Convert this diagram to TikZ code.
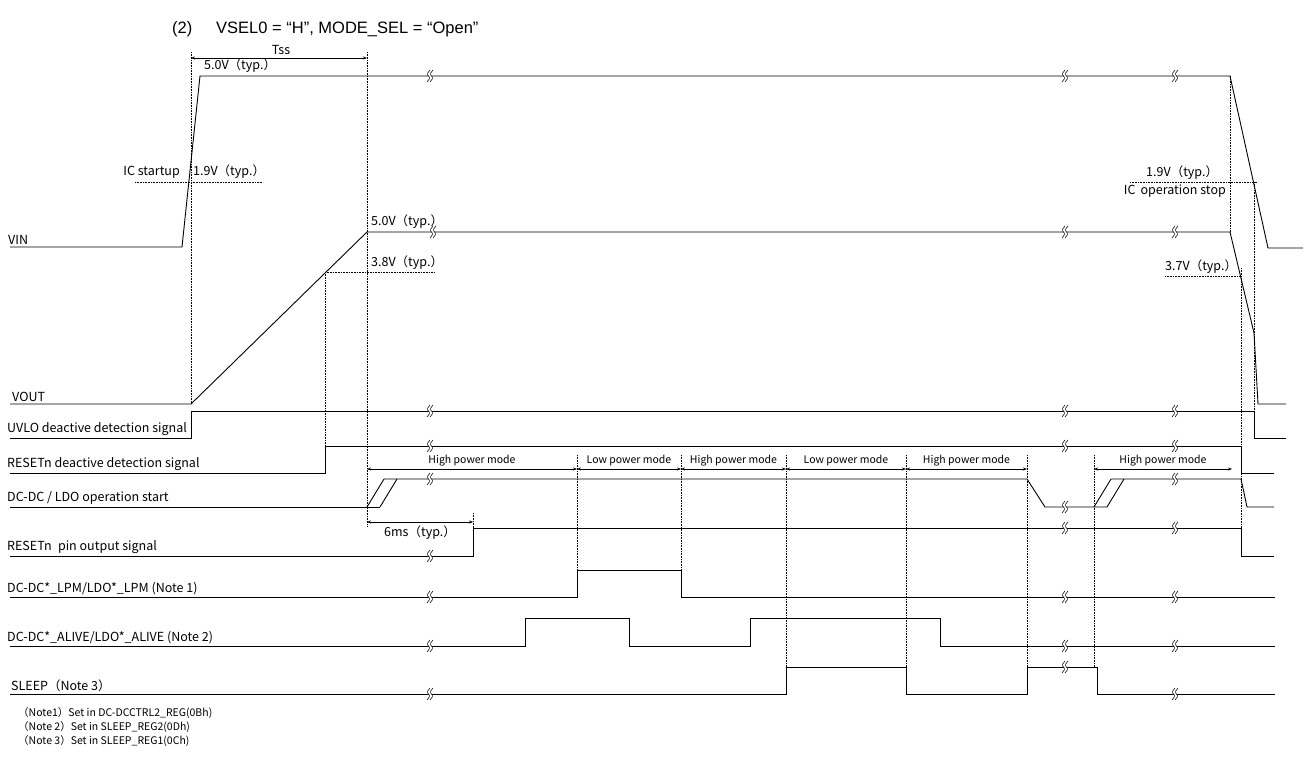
\documentclass[tikz,border=0pt]{standalone}
\usepackage{fontspec}
\setmainfont{Liberation Sans}
\newfontfamily\jp{Noto Sans CJK JP}
\usetikzlibrary{arrows.meta}
\tikzset{
  brk/.pic={
    \fill[white] (0,-6) -- (-3,-2) -- (0,2) -- (-3,6) -- (0,6) -- (3,2) -- (0,-2) -- (3,-6) -- cycle;
    \draw[line width=0.55pt, rounded corners=1pt] (0,-6) -- (-3,-2) -- (0,2) -- (-3,6);
    \draw[line width=0.55pt, rounded corners=1pt] (3,-6) -- (0,-2) -- (3,2) -- (0,6);
  }
}
\begin{document}
\begin{tikzpicture}[x=1pt,y=-1pt,
  sig/.style={line width=0.9pt},
  dotl/.style={line width=0.6pt, densely dotted},
  lbl/.style={font=\jp\fontsize{12.5}{13}\selectfont, inner sep=0pt, anchor=south west},
  val/.style={font=\jp\fontsize{12.5}{13}\selectfont, inner sep=0pt, anchor=south west},
  modetxt/.style={font=\jp\fontsize{10.5}{11}\selectfont, inner sep=0pt, anchor=south},
  note/.style={font=\jp\fontsize{10.5}{11}\selectfont, inner sep=0pt, anchor=west},
  dim/.style={line width=0.6pt, {Stealth[length=4pt,width=3pt]}-{Stealth[length=4pt,width=3pt]}}
]
\useasboundingbox (0,0) rectangle (1309,760);
\fill[white] (0,0) rectangle (1309,760);

% title
\node[font=\fontsize{16.5}{19}\selectfont, inner sep=0pt, anchor=west] (title) at (172,29) {\makebox[44pt][l]{(2)}VSEL0 = “H”, MODE\_SEL = “Open”};

% ---------- dotted guides ----------
\draw[dotl] (191,52) -- (191,404);
\draw[dotl] (367,52) -- (367,527);
\draw[dotl] (135,182) -- (263,182);
\draw[dotl] (1130,182) -- (1258,182);
\draw[dotl] (325,272) -- (435,272);
\draw[dotl] (325,272) -- (325,446);
\draw[dotl] (1165,276) -- (1241,276);
\draw[dotl] (1241,268) -- (1241,556);
\draw[dotl] (1230,76) -- (1230,232);
\draw[dotl] (1254,182) -- (1254,411);
\draw[dotl] (473,513) -- (473,528);
\foreach \x/\yb in {577/570, 681/570, 786/667, 906/667, 1027/667, 1094/667}
  \draw[dotl] (\x,455) -- (\x,\yb);

% ---------- dimension arrows ----------
\coordinate (tssA) at (191,58);
\coordinate (tssB) at (367,58);
\draw[dim] (tssA) -- (tssB);
\node[val, anchor=south] (tss) at (281,55) {Tss};

\coordinate (msA) at (367,522);
\coordinate (msB) at (473,522);
\draw[dim] (msA) -- (msB);
\node[val, anchor=north west] (ms6) at (384,526) {6ms（typ.）};

% mode arrows
\foreach \a/\b/\t [count=\i] in {367/577/High power mode, 577/681/Low power mode, 681/786/High power mode, 786/906/Low power mode, 906/1027/High power mode, 1094/1232/High power mode}{
  \coordinate (mA\i) at (\a,469);
  \coordinate (mB\i) at (\b,469);
  \draw[dim] (mA\i) -- (mB\i);
  \node[modetxt] (mt\i) at ({(\a+\b)/2},466) {\t};
}

% ---------- VIN ----------
\draw[sig] (10,247) -- (182,247) -- (200,76) -- (1230,76) -- (1268,248) -- (1303,248);
\node[lbl] (vin) at (8,245) {VIN};
\node[val] (v50a) at (204,73) {5.0V（typ.）};
\node[val, anchor=south east] (icst) at (180,179) {IC startup};
\node[val] (v19a) at (193,179) {1.9V（typ.）};
\node[val] (v19b) at (1146,180) {1.9V（typ.）};
\node[val, anchor=north east] (icop) at (1226,185) {IC\hspace{0.4em}operation stop};

% ---------- VOUT ----------
\draw[sig] (10,404) -- (191,404) -- (367,232) -- (1230,232) -- (1254,333) -- (1258,404) -- (1286,404);
\node[lbl] (vout) at (12,402) {VOUT};
\node[val] (v50b) at (371,229) {5.0V（typ.）};
\node[val] (v38) at (371,270) {3.8V（typ.）};
\node[val] (v37) at (1165,274) {3.7V（typ.）};

% ---------- UVLO ----------
\draw[sig] (10,438) -- (191,438) -- (191,411) -- (1254,411) -- (1254,438) -- (1286,438);
\node[lbl] (uvlo) at (7,436) {UVLO deactive detection signal};

% ---------- RESETn deactive ----------
\draw[sig] (10,473) -- (325,473) -- (325,446) -- (1241,446) -- (1241,473) -- (1274,473);
\node[lbl] (rstd) at (7,471) {RESETn deactive detection signal};

% ---------- DC-DC / LDO operation start ----------
\draw[sig] (10,507) -- (380,507);
\draw[sig] (367,507) -- (384,479);
\draw[sig] (380,507) -- (397,479);
\draw[sig] (384,479) -- (1027,479) -- (1045,507) -- (1107,507);
\draw[sig] (1094,507) -- (1111,479);
\draw[sig] (1107,507) -- (1124,479);
\draw[sig] (1111,479) -- (1241,479) -- (1247,507) -- (1274,507);
\node[lbl] (dcst) at (7,505) {DC-DC / LDO operation start};

% ---------- RESETn pin output ----------
\draw[sig] (10,556) -- (473,556) -- (473,528) -- (1241,528) -- (1241,556) -- (1274,556);
\node[lbl] (rstp) at (7,554) {RESETn\hspace{0.5em}pin output signal};

% ---------- LPM ----------
\draw[sig] (10,597) -- (577,597) -- (577,570) -- (681,570) -- (681,597) -- (1275,597);
\node[lbl] (lpm) at (7,595) {DC-DC*\_LPM/LDO*\_LPM (Note 1)};

% ---------- ALIVE ----------
\draw[sig] (10,646) -- (525,646) -- (525,618) -- (629,618) -- (629,646) -- (750,646) -- (750,618) -- (940,618) -- (940,646) -- (1275,646);
\node[lbl] (alive) at (7,644) {DC-DC*\_ALIVE/LDO*\_ALIVE (Note 2)};

% ---------- SLEEP ----------
\draw[sig] (10,694) -- (786,694) -- (786,667) -- (906,667) -- (906,694) -- (1027,694) -- (1027,667) -- (1097,667) -- (1097,694) -- (1275,694);
\node[lbl] (sleep) at (11,692) {SLEEP（Note 3）};

% ---------- break marks ----------
\foreach \p in {(430,76),(1065,76),(1175,76),
                (433,232),(1065,232),(1175,232),
                (430,411),(1065,411),(1175,411),
                (430,446),(1065,446),(1175,446),
                (430,479),(1065,507),(1175,479),
                (430,556),(1065,528),(1175,528),
                (430,597),(1065,597),(1175,597),
                (430,646),(1065,646),(1175,646),
                (430,694),(1065,667),(1175,694)}
  \pic at \p {brk};

% ---------- notes ----------
\node[note] (n1) at (18,713) {（Note1）Set in DC-DCCTRL2\_REG(0Bh)};
\node[note] (n2) at (18,727) {（Note 2）Set in SLEEP\_REG2(0Dh)};
\node[note] (n3) at (18,741) {（Note 3）Set in SLEEP\_REG1(0Ch)};
\end{tikzpicture}
\end{document}
